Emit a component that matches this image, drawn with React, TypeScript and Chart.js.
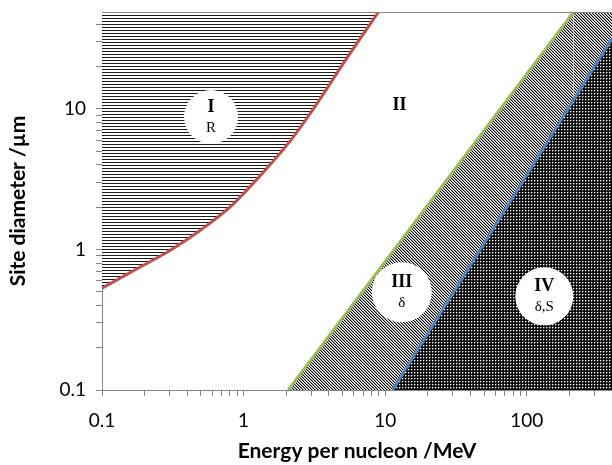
import React, { useEffect, useRef } from "react";
import { Chart, registerables } from "chart.js";

Chart.register(...registerables);

// Boundary curves (energy per nucleon MeV, site diameter µm)
const redX = [0.1, 0.186, 0.3, 0.49, 0.8, 1.31, 2.13, 3.11, 5.36, 8.97];
const redY = [0.53, 0.75, 0.98, 1.36, 2.0, 3.35, 5.9, 10, 23, 49];
const greenX = [2.07, 214, 400];
const greenY = [0.1, 49, 49];
const blueX = [11.26, 400];
const blueY = [0.1, 31.8];

// Region labels
const regionRoman = ["I", "II", "III", "IV"];
const regionSub = ["R", "", "δ", "δ,S"];
const regionX = [0.589, 12.6, 13.1, 133];
const regionY = [8.78, 10.7, 0.496, 0.464];
const regionCircle = [true, false, true, true];

// Axes
const xMin = 0.1;
const xMax = 400;
const yMin = 0.1;
const yMax = 49;
const xTickLabels = ["0.1", "1", "10", "100"];
const yTickLabels = ["0.1", "1", "10"];
const xTitle = "Energy per nucleon /MeV";
const yTitle = "Site diameter /µm";

function makePattern(w: number, h: number, bg: string, paint: (x: number, y: number) => string | null) {
  const c = document.createElement("canvas");
  c.width = w;
  c.height = h;
  const g = c.getContext("2d")!;
  g.fillStyle = bg;
  g.fillRect(0, 0, w, h);
  for (let y = 0; y < h; y++)
    for (let x = 0; x < w; x++) {
      const col = paint(x, y);
      if (col) {
        g.fillStyle = col;
        g.fillRect(x, y, 1, 1);
      }
    }
  return g.createPattern(c, "repeat")!;
}

function logTicks(min: number, max: number) {
  const out: { value: number }[] = [];
  for (let e = Math.floor(Math.log10(min)); e <= Math.ceil(Math.log10(max)); e++) {
    for (let m = 1; m <= 9; m++) {
      const v = parseFloat((m * Math.pow(10, e)).toPrecision(6));
      if (v >= min - 1e-9 && v <= max + 1e-9) out.push({ value: v });
    }
  }
  return out;
}

function labelFor(v: number, labels: string[]) {
  const found = labels.find((l) => Math.abs(parseFloat(l) - v) < 1e-9 * Math.max(1, v));
  return found ?? "";
}

const GRAY = "#868686";

export default function App() {
  const ref = useRef<HTMLCanvasElement | null>(null);

  useEffect(() => {
    document.body.style.margin = "0";
    if (!ref.current) return;

    const hLines = makePattern(3, 3, "#ffffff", (x, y) => (y === 0 ? "#1a1a1a" : null));
    const diag = makePattern(3, 3, "#ffffff", (x, y) => {
      const k = (x - y + 6) % 3;
      return k === 0 ? "#000000" : k === 1 ? "#a0a0a0" : null;
    });
    const dots = makePattern(3, 3, "#0a0a0a", (x, y) =>
      x === 0 && y === 0 ? "#ffffff" : (x === 1 && y === 0) || (x === 0 && y === 1) ? "#6a6a6a" : null
    );

    const labelPlugin = {
      id: "regionLabels",
      afterDatasetsDraw(chart: any) {
        const { ctx, scales } = chart;
        ctx.save();
        ctx.fillStyle = "#000";
        ctx.textAlign = "center";
        ctx.textBaseline = "middle";
        regionRoman.forEach((r, i) => {
          const px = scales.x.getPixelForValue(regionX[i]);
          const py = scales.y.getPixelForValue(regionY[i]);
          const hasSub = regionSub[i] !== "";
          ctx.font = "bold 18px 'Liberation Serif', serif";
          ctx.fillText(r, px, hasSub ? py - 10 : py);
          if (hasSub) {
            ctx.font = "15px 'Liberation Serif', serif";
            ctx.fillText(regionSub[i], px, py + 11);
          }
        });
        ctx.restore();
      },
      afterDraw(chart: any) {
        const { ctx, chartArea } = chart;
        ctx.save();
        ctx.strokeStyle = GRAY;
        ctx.lineWidth = 1;
        ctx.beginPath();
        ctx.moveTo(chartArea.left, chartArea.top + 0.5);
        ctx.lineTo(chartArea.right, chartArea.top + 0.5);
        ctx.stroke();
        ctx.restore();
      },
    };

    const circleIdx = regionRoman.map((_, i) => i).filter((i) => regionCircle[i]);

    const chart = new Chart(ref.current, {
      type: "line",
      data: {
        datasets: [
          {
            type: "scatter",
            label: "circles",
            data: circleIdx.map((i) => ({ x: regionX[i], y: regionY[i] })),
            pointRadius: [27, 30, 29],
            pointBackgroundColor: "#ffffff",
            pointBorderWidth: 0,
            pointBorderColor: "#ffffff",
            showLine: false,
            order: 0,
          } as any,
          {
            label: "blue",
            data: blueX.map((x, i) => ({ x, y: blueY[i] })),
            borderColor: "#4f81bd",
            borderWidth: 3,
            backgroundColor: dots,
            fill: "start",
            pointRadius: 0,
            order: 1,
          },
          {
            label: "green",
            data: greenX.map((x, i) => ({ x, y: greenY[i] })),
            borderColor: "#9bbb59",
            borderWidth: 3,
            backgroundColor: diag,
            fill: "start",
            pointRadius: 0,
            segment: {
              borderColor: (c: any) => (c.p0DataIndex >= 1 ? "rgba(0,0,0,0)" : "#9bbb59"),
            },
            order: 2,
          },
          {
            label: "red",
            data: redX.map((x, i) => ({ x, y: redY[i] })),
            borderColor: "#c0504d",
            borderWidth: 3,
            backgroundColor: hLines,
            fill: "end",
            pointRadius: 0,
            tension: 0.35,
            cubicInterpolationMode: "monotone",
            order: 3,
          },
        ],
      },
      options: {
        animation: false,
        responsive: true,
        maintainAspectRatio: false,
        layout: { autoPadding: false, padding: { top: 12, right: 0, bottom: 0, left: 0 } },
        plugins: {
          legend: { display: false },
          tooltip: { enabled: false },
        },
        scales: {
          x: {
            type: "logarithmic",
            min: xMin,
            max: xMax,
            afterBuildTicks: (s: any) => {
              s.ticks = logTicks(xMin, xMax);
            },
            afterFit: (s: any) => {
              s.height = 75;
              s.paddingLeft = 0;
              s.paddingRight = 0;
            },
            ticks: {
              autoSkip: false,
              maxRotation: 0,
              padding: 13,
              color: "#000",
              font: { family: "Lato", size: 19 },
              callback: (v: any) => labelFor(Number(v), xTickLabels),
            },
            grid: { drawOnChartArea: false, drawTicks: true, tickLength: 6, color: GRAY },
            border: { color: GRAY, width: 1 },
            title: {
              display: true,
              text: xTitle,
              color: "#000",
              font: { family: "Lato", size: 21, weight: "bold" },
              padding: { top: 0, bottom: 1 },
            },
          },
          y: {
            type: "logarithmic",
            min: yMin,
            max: yMax,
            afterBuildTicks: (s: any) => {
              s.ticks = logTicks(yMin, yMax);
            },
            afterFit: (s: any) => {
              s.width = 102;
              s.paddingTop = 0;
              s.paddingBottom = 0;
            },
            ticks: {
              autoSkip: false,
              padding: 10,
              color: "#000",
              font: { family: "Lato", size: 19 },
              callback: (v: any) => labelFor(Number(v), yTickLabels),
            },
            grid: { drawOnChartArea: false, drawTicks: true, tickLength: 6, color: GRAY },
            border: { color: GRAY, width: 1 },
            title: {
              display: true,
              text: yTitle,
              color: "#000",
              font: { family: "Lato", size: 21, weight: "bold" },
              padding: { top: 6, bottom: 0 },
            },
          },
        },
      },
      plugins: [labelPlugin],
    });

    return () => chart.destroy();
  }, []);

  return (
    <div style={{ width: 612, height: 465, position: "relative" }}>
      <canvas ref={ref} />
    </div>
  );
}
